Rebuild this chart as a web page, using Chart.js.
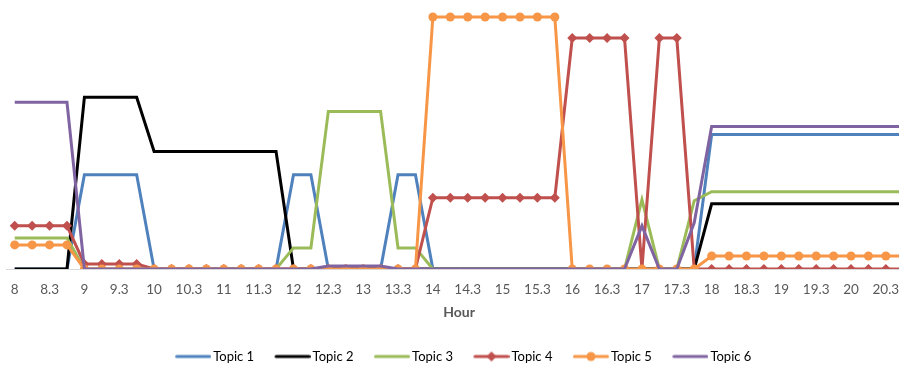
<!DOCTYPE html>
<html>
<head>
<meta charset="utf-8">
<script src="https://cdn.jsdelivr.net/npm/chart.js@4/dist/chart.umd.min.js"></script>
<style>
  html, body { margin:0; padding:0; background:#fff; overflow:hidden; }
  #wrap { width:918px; height:365px; }
</style>
</head>
<body>
<div id="wrap"><canvas id="topicChart"></canvas></div>
<script>
// ----------------- data -----------------
const hours = ['8','8.15','8.3','8.45','9','9.15','9.3','9.45','10','10.15','10.3','10.45',
  '11','11.15','11.3','11.45','12','12.15','12.3','12.45','13','13.15','13.3','13.45',
  '14','14.15','14.3','14.45','15','15.15','15.3','15.45','16','16.15','16.3','16.45',
  '17','17.15','17.3','17.45','18','18.15','18.3','18.45','19','19.15','19.3','19.45',
  '20','20.15','20.3','20.45'];

const topic1 = [0,0,0,0, 94,94,94,94, 0,0,0,0,0,0,0,0, 94,94, 0,0,0,0, 94,94,
  0,0,0,0,0,0,0,0,0,0,0,0,0,0,0,0, 134,134,134,134,134,134,134,134,134,134,134,134];
const topic2 = [0,0,0,0, 171,171,171,171, 117,117,117,117,117,117,117,117,
  0,0,0,0,0,0,0,0,0,0,0,0,0,0,0,0,0,0,0,0,0,0,0,0, 65,65,65,65,65,65,65,65,65,65,65,65];
const topic3 = [31,31,31,31, 0,0,0,0,0,0,0,0,0,0,0,0, 21,21, 157,157,157,157, 21,21,
  0,0,0,0,0,0,0,0,0,0,0,0, 69, 0,0, 68, 77,77,77,77,77,77,77,77,77,77,77,77];
const topic4 = [43,43,43,43, 5,5,5,5, 0,0,0,0,0,0,0,0,0,0,0,0,0,0,0,0,
  71,71,71,71,71,71,71,71, 230,230,230,230, 0, 230,230, 0, 0,0,0,0,0,0,0,0,0,0,0,0];
const topic5 = [24,24,24,24, 0,0,0,0,0,0,0,0,0,0,0,0,0,0,0,0,0,0,0,0,
  251,251,251,251,251,251,251,251, 0,0,0,0,0,0,0,0, 13,13,13,13,13,13,13,13,13,13,13,13];
const topic6 = [166,166,166,166, 0,0,0,0,0,0,0,0,0,0,0,0,0,0, 3,3,3,3,
  0,0,0,0,0,0,0,0,0,0,0,0,0,0, 43, 0,0, 46, 142,142,142,142,142,142,142,142,142,142,142,142];

const seriesNames = ['Topic 1','Topic 2','Topic 3','Topic 4','Topic 5','Topic 6'];
const seriesData = [topic1, topic2, topic3, topic4, topic5, topic6];
const seriesColors = ['#4f81bd','#000000','#9bbb59','#c0504d','#f79646','#8064a2'];
const seriesMarkers = [false, false, false, 'rectRot', 'circle', false];

// ----------------- legend symbols (line + marker) -----------------
const BOX_W = 40;
function legendSymbol(color, marker){
  const c = document.createElement('canvas');
  c.width = BOX_W + 9; c.height = 14;
  const g = c.getContext('2d');
  const x1 = c.width - 36, x2 = c.width, cy = 7;
  g.strokeStyle = color; g.lineWidth = 3; g.lineCap = 'round';
  g.beginPath(); g.moveTo(x1 + 1.5, cy); g.lineTo(x2 - 1.5, cy); g.stroke();
  const mx = (x1 + x2) / 2;
  g.fillStyle = color;
  if(marker === 'circle'){
    g.beginPath(); g.arc(mx, cy, 4.5, 0, Math.PI*2); g.fill();
  }else if(marker === 'rectRot'){
    g.beginPath(); g.moveTo(mx, cy-5); g.lineTo(mx+5, cy); g.lineTo(mx, cy+5); g.lineTo(mx-5, cy); g.closePath(); g.fill();
  }
  return c;
}

Chart.defaults.font.family = 'Lato';
Chart.defaults.color = '#595959';

const datasets = seriesNames.map((name, i) => ({
  label: name,
  data: seriesData[i],
  borderColor: seriesColors[i],
  backgroundColor: seriesColors[i],
  borderWidth: 3,
  tension: 0,
  pointStyle: seriesMarkers[i] || 'circle',
  pointRadius: seriesMarkers[i] ? (seriesMarkers[i] === 'circle' ? 4.5 : 5) : 0,
  pointBorderWidth: 0,
  order: 5 - i
}));

const ctx = document.getElementById('topicChart').getContext('2d');
new Chart(ctx, {
  type: 'line',
  data: { labels: hours, datasets: datasets },
  options: {
    responsive: true,
    maintainAspectRatio: false,
    animation: false,
    layout: { padding: { left: 6, right: 6, top: 8, bottom: -8 } },
    scales: {
      x: {
        offset: true,
        grid: { display: false },
        border: { display: true, color: '#d9d9d9', width: 1 },
        ticks: {
          autoSkip: false, maxRotation: 0, padding: 5,
          font: { size: 13.5 }, color: '#595959',
          callback: (v, i) => i % 2 === 0 ? hours[i] : ''
        },
        title: { display: true, text: 'Hour', font: { size: 14, weight: 'bold' }, color: '#595959', padding: { top: 1, bottom: 17 } }
      },
      y: { display: false, min: 0, max: 260 }
    },
    plugins: {
      tooltip: { enabled: false },
      legend: {
        position: 'bottom',
        labels: {
          usePointStyle: true,
          pointStyleWidth: BOX_W,
          padding: 12,
          font: { size: 13 },
          color: '#595959',
          generateLabels: chart => chart.data.datasets.map((ds, i) => ({
            text: ds.label,
            pointStyle: legendSymbol(seriesColors[i], seriesMarkers[i]),
            fillStyle: seriesColors[i],
            strokeStyle: seriesColors[i],
            lineWidth: 0,
            hidden: false,
            datasetIndex: i
          }))
        }
      }
    }
  }
});
</script>
</body>
</html>
